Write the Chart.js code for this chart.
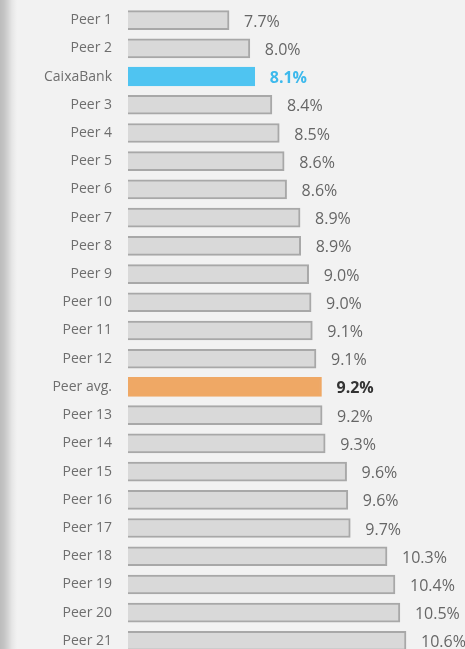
<!DOCTYPE html>
<html>
<head>
<meta charset="utf-8">
<script src="https://cdn.jsdelivr.net/npm/chart.js@4.4.1/dist/chart.umd.min.js"></script>
<style>
  html, body { margin: 0; padding: 0; background: #f2f2f2; overflow: hidden; }
  #edge { position: absolute; left: 0; top: 0; width: 17px; height: 649px;
    background: linear-gradient(to right, #bcbcbc 0px, #c4c4c4 4px, #d4d4d4 8px, #e6e6e6 12px, #f2f2f2 17px); }
  #wrap { position: absolute; left: 0; top: 0; width: 465px; height: 662px; }
</style>
</head>
<body>
<div id="edge"></div>
<div id="wrap"><canvas id="peerChart"></canvas></div>
<script>
// banks, in the order shown (lowest ratio on top)
const banks = ['Peer 1', 'Peer 2', 'CaixaBank', 'Peer 3', 'Peer 4', 'Peer 5', 'Peer 6', 'Peer 7',
  'Peer 8', 'Peer 9', 'Peer 10', 'Peer 11', 'Peer 12', 'Peer avg.', 'Peer 13', 'Peer 14',
  'Peer 15', 'Peer 16', 'Peer 17', 'Peer 18', 'Peer 19', 'Peer 20', 'Peer 21'];
// ratio in % (labels show one decimal)
const ratios = [7.70, 8.04, 8.12, 8.40, 8.52, 8.60, 8.64, 8.86,
  8.87, 9.00, 9.04, 9.06, 9.12, 9.21, 9.22, 9.27,
  9.62, 9.64, 9.68, 10.28, 10.41, 10.49, 10.59];

const HIGHLIGHT = 'CaixaBank';
const AVERAGE = 'Peer avg.';

const fill = banks.map(b => b === HIGHLIGHT ? '#4fc4f1' : b === AVERAGE ? '#efa865' : '#d9d9d9');
const stroke = banks.map(b => b === HIGHLIGHT ? '#4fc4f1' : b === AVERAGE ? '#efa865' : '#a8a8a8');

// value labels at the end of each bar
const valueLabels = {
  id: 'valueLabels',
  afterDatasetsDraw(chart) {
    const ctx = chart.ctx;
    const meta = chart.getDatasetMeta(0);
    ctx.save();
    ctx.textAlign = 'left';
    ctx.textBaseline = 'middle';
    meta.data.forEach((bar, i) => {
      const name = banks[i];
      let color = '#666666', weight = '400';
      if (name === HIGHLIGHT) { color = '#3db9ec'; weight = '700'; }
      if (name === AVERAGE) { color = '#333333'; weight = '700'; }
      ctx.fillStyle = color;
      ctx.font = weight + ' 16px "Open Sans", sans-serif';
      ctx.fillText(ratios[i].toFixed(1) + '%', bar.x + 15, bar.y + 2);
    });
    ctx.restore();
  }
};

new Chart(document.getElementById('peerChart'), {
  type: 'bar',
  data: {
    labels: banks,
    datasets: [{
      data: ratios,
      backgroundColor: fill,
      borderColor: stroke,
      borderWidth: 2,
      borderSkipped: false,
      barThickness: 19
    }]
  },
  options: {
    indexAxis: 'y',
    responsive: true,
    maintainAspectRatio: false,
    animation: false,
    layout: { padding: { top: 6, bottom: 7, left: 0, right: 10 } },
    plugins: { legend: { display: false }, tooltip: { enabled: false } },
    scales: {
      x: {
        display: false,
        min: 6.05,
        max: 11.39
      },
      y: {
        grid: { display: false, drawTicks: false },
        border: { display: false },
        ticks: {
          color: '#6e6e6e',
          padding: 16,
          font: { family: '"Open Sans", sans-serif', size: 14 }
        },
        afterFit(scale) {
          scale.width = 128;
          scale.paddingTop = 0;
          scale.paddingBottom = 0;
        }
      }
    }
  },
  plugins: [valueLabels]
});
</script>
</body>
</html>
